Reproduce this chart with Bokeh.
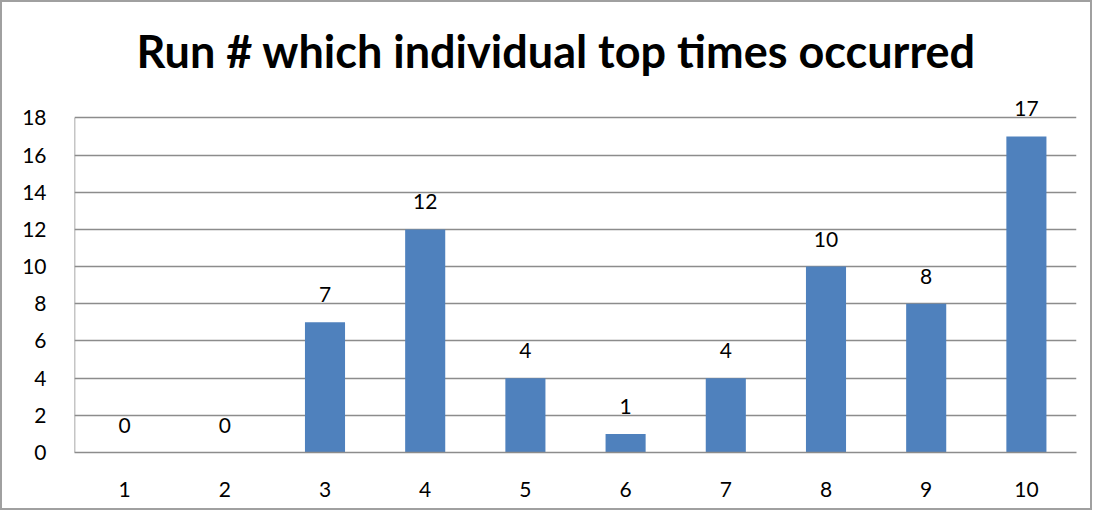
from bokeh.plotting import figure
from bokeh.models import ColumnDataSource, FixedTicker, Range1d, LabelSet
from bokeh.transform import dodge
from bokeh.embed import file_html
from bokeh.resources import INLINE
from bokeh.core.properties import value

runs = ["1", "2", "3", "4", "5", "6", "7", "8", "9", "10"]
counts = [0, 0, 7, 12, 4, 1, 4, 10, 8, 17]
y_ticks = [0, 2, 4, 6, 8, 10, 12, 14, 16, 18]
title_text = "Run # which individual top times occurred"

FONT = "Lato"
GRID = "#8c8c8c"

src = ColumnDataSource(dict(run=runs, count=counts, label=[str(c) for c in counts]))
axis_src = ColumnDataSource(dict(x=[runs[0]], y0=[y_ticks[0]], y1=[y_ticks[-1]]))

p = figure(x_range=runs, y_range=Range1d(0, 19.2), width=1092, height=510,
           output_backend="svg", toolbar_location=None,
           min_border_left=72, min_border_right=18, min_border_top=93, min_border_bottom=60)

p.title.text = title_text
p.title.align = "left"
p.title.offset = 62
p.title.text_font = FONT
p.title.text_font_style = "bold"
p.title.text_font_size = "45px"
p.title.text_color = "black"
p.title.standoff = 35

p.ygrid.grid_line_color = GRID
p.ygrid.grid_line_width = 1.5
p.ygrid.ticker = FixedTicker(ticks=y_ticks)
p.xgrid.grid_line_color = None

p.vbar(x="run", top="count", width=0.4, source=src, color="#4F81BD", line_color=None)
# left axis line only up to the top tick
p.segment(x0=dodge("x", -0.5, range=p.x_range), y0="y0",
          x1=dodge("x", -0.5, range=p.x_range), y1="y1", source=axis_src,
          line_color=GRID, line_width=1.5)

labels = LabelSet(x="run", y="count", text="label", source=src, text_align="center",
                  text_baseline="bottom", y_offset=20, text_font=value(FONT),
                  text_font_size="21px", text_color="black", level="overlay")
p.add_layout(labels)

p.x_range.range_padding = 0
p.yaxis.ticker = FixedTicker(ticks=y_ticks)
for ax in (p.xaxis, p.yaxis):
    ax.major_tick_line_color = None
    ax.minor_tick_line_color = None
    ax.axis_line_color = GRID
    ax.axis_line_width = 1.5
    ax.major_label_text_font = FONT
    ax.major_label_text_font_size = "21px"
    ax.major_label_text_color = "black"
p.yaxis.axis_line_color = None
p.yaxis.major_label_standoff = 22
p.xaxis.major_label_standoff = 23

p.outline_line_color = None
p.background_fill_color = "white"
p.border_fill_color = "white"
p.styles = {"border": "2px solid #a0a0a0"}

open("out.html", "w").write(file_html(p, INLINE))
